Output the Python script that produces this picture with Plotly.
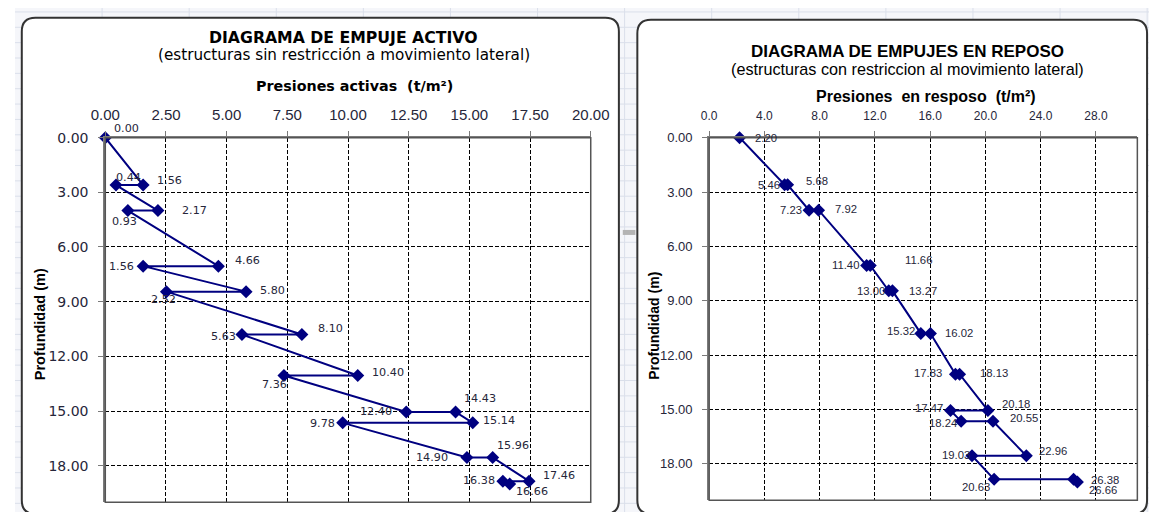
import plotly.graph_objects as go

W, H = 1168, 512

# ---------------- data ----------------
# Left chart: empuje activo (presión t/m², profundidad m)
activo_presion = [0.00, 1.56, 0.44, 2.17, 0.93, 4.66, 1.56, 5.80, 2.52, 8.10, 5.63,
                  10.40, 7.36, 12.40, 14.43, 15.14, 9.78, 14.90, 15.96, 17.46, 16.38, 16.66]
activo_prof = [0.0, 2.6, 2.6, 4.0, 4.0, 7.05, 7.05, 8.45, 8.45, 10.8, 10.8,
               13.05, 13.05, 15.05, 15.05, 15.65, 15.65, 17.55, 17.55, 18.85, 18.85, 19.0]

# Right chart: empujes en reposo
reposo_presion = [2.20, 5.46, 5.68, 7.23, 7.92, 11.40, 11.66, 13.00, 13.27, 15.32, 16.02,
                  17.83, 18.13, 20.18, 17.47, 18.24, 20.55, 22.96, 19.03, 20.63, 26.38, 26.66]
reposo_prof = [0.0, 2.6, 2.6, 4.0, 4.0, 7.05, 7.05, 8.45, 8.45, 10.8, 10.8,
               13.05, 13.05, 15.05, 15.05, 15.65, 15.65, 17.55, 17.55, 18.85, 18.85, 19.0]

activo_xticks = [0, 2.5, 5, 7.5, 10, 12.5, 15, 17.5, 20]
reposo_xticks = [0, 4, 8, 12, 16, 20, 24, 28]
prof_ticks = [0, 3, 6, 9, 12, 15, 18]

# ---------------- label placement (style only) ----------------
# (xanchor, pixel x shift of label edge, pixel y shift downwards)
activo_lab = [("left", 7, -9), ("left", 12, -5), ("left", -2, -8), ("left", 22, 0),
              ("left", -18, 11), ("left", 15, -6), ("right", -7, 0), ("left", 12, -1),
              ("left", -17, 8), ("left", 14, -6), ("right", -4, 2), ("left", 12, -3),
              ("left", -24, 9), ("right", -12, 0), ("left", 6, -13), ("left", 8, -2),
              ("right", -6, 1), ("right", -17, 0), ("left", 2, -12), ("left", 12, -6),
              ("right", -6, -1), ("left", 4, 8)]
reposo_lab = [("left", 13, 0), ("right", -3, 0), ("left", 16, -4), ("right", -5, 0),
              ("left", 14, -1), ("right", -6, 0), ("left", 33, -5), ("right", -2, 0),
              ("left", 15, 0), ("right", -4, -2), ("left", 13, 0), ("right", -11, -1),
              ("left", 18, -1), ("left", 12, -6), ("right", -5, -2), ("right", -2, 2),
              ("left", 15, -3), ("left", 11, -5), ("right", 0, -1), ("right", -2, 8),
              ("left", 15, 1), ("left", 10, 8)]

ARIAL = "Liberation Sans, Arial, sans-serif"
WIDE = "DejaVu Sans, Verdana, sans-serif"
NAVY = "#000080"
TXT = "#26263a"


def px(x):
    return x / W


def py(y):
    return 1 - y / H


fig = go.Figure()

fig.add_trace(go.Scatter(
    x=activo_presion, y=activo_prof, mode="lines+markers",
    line=dict(color=NAVY, width=2),
    marker=dict(symbol="diamond", size=10, color=NAVY),
    xaxis="x", yaxis="y", cliponaxis=False, showlegend=False, hoverinfo="x+y"))

fig.add_trace(go.Scatter(
    x=reposo_presion, y=reposo_prof, mode="lines+markers",
    line=dict(color=NAVY, width=2),
    marker=dict(symbol="diamond", size=10, color=NAVY),
    xaxis="x2", yaxis="y2", cliponaxis=False, showlegend=False, hoverinfo="x+y"))

annotations = []
for xs, ys, labs, xr, yr, fam, fs in [
        (activo_presion, activo_prof, activo_lab, "x", "y", WIDE, 11.2),
        (reposo_presion, reposo_prof, reposo_lab, "x2", "y2", ARIAL, 11.3)]:
    for xv, yv, (anc, dx, dy) in zip(xs, ys, labs):
        annotations.append(dict(
            x=xv, y=yv, xref=xr, yref=yr, text=f"{xv:.2f}", showarrow=False,
            xanchor=anc, yanchor="middle", xshift=dx, yshift=-dy,
            font=dict(family=fam, size=fs, color=TXT)))


def ann(text, x, y, size, fam, bold=False, angle=0):
    t = f"<b>{text}</b>" if bold else text
    annotations.append(dict(
        x=px(x), y=py(y), xref="paper", yref="paper", text=t, showarrow=False,
        xanchor="center", yanchor="middle", textangle=angle,
        font=dict(family=fam, size=size, color="#000000")))

ann("DIAGRAMA DE EMPUJE ACTIVO", 338, 30, 15.7, WIDE, True)
ann("(estructuras sin restricción a movimiento lateral)", 339, 48, 15.2, WIDE)
ann("Presiones activas  (t/m²)", 349.5, 79, 14.3, WIDE, True)
ann("Profundidad (m)", 26, 321, 14.5, ARIAL, True, -90)

ann("DIAGRAMA DE EMPUJES EN REPOSO", 919, 44, 17, ARIAL, True)
ann("(estructuras con restriccion al movimiento lateral)", 919.5, 62, 16.2, ARIAL)
ann("Presiones  en resposo  (t/m²)", 938, 90, 16, ARIAL, True)
ann("Profundidad (m)", 658, 323, 14, ARIAL, True, -90)


# ---------------- shapes (spreadsheet background / cards) ----------------
def c(x, y):
    return f"{px(x):.5f},{py(y):.5f}"


def rr_path(x0, y0, x1, y1, r):
    return (f"M {c(x0 + r, y0)} L {c(x1 - r, y0)} Q {c(x1, y0)} {c(x1, y0 + r)} "
            f"L {c(x1, y1 - r)} Q {c(x1, y1)} {c(x1 - r, y1)} L {c(x0 + r, y1)} "
            f"Q {c(x0, y1)} {c(x0, y1 - r)} L {c(x0, y0 + r)} Q {c(x0, y0)} {c(x0 + r, y0)} Z")

shapes = []
shapes.append(dict(type="rect", xref="paper", yref="paper", x0=0, x1=1, y0=0, y1=1,
                   fillcolor="#f5f6fa", line=dict(width=0), layer="below"))
yy = 4.0
while yy < H:
    shapes.append(dict(type="line", xref="paper", yref="paper", x0=0, x1=1,
                       y0=py(yy), y1=py(yy), line=dict(color="#dadfea", width=1), layer="below"))
    yy += 15.6
for k in range(1, 14):
    xx = 89.7 * k
    shapes.append(dict(type="line", xref="paper", yref="paper", x0=px(xx), x1=px(xx),
                       y0=0, y1=1, line=dict(color="#dadfea", width=1), layer="below"))
# small gray handle between cards
shapes.append(dict(type="line", xref="paper", yref="paper", x0=px(626), x1=px(639),
                   y0=py(228), y1=py(228), line=dict(color="#b4b4b4", width=5), layer="below"))
shapes.append(dict(type="path", xref="paper", yref="paper", path=rr_path(7, 10, 622, 514, 14),
                   fillcolor="#ffffff", line=dict(color="#333333", width=2), layer="below"))
shapes.append(dict(type="path", xref="paper", yref="paper", path=rr_path(641, 12, 1166, 514, 14),
                   fillcolor="#ffffff", line=dict(color="#333333", width=2), layer="below"))
# plot-area frames
for (x0, x1, y0, y1) in [(93, 593, 131.7, 502), (715, 1156, 131.7, 500)]:
    shapes.append(dict(type="rect", xref="paper", yref="paper",
                       x0=px(x0), x1=px(x1), y0=py(y1), y1=py(y0),
                       line=dict(color="#555555", width=1.5), layer="above"))

axis_common = dict(showgrid=True, gridcolor="#000000", gridwidth=1, griddash="4px,2px",
                   zeroline=False, showline=True, linecolor="#7a7a7a", linewidth=2,
                   ticks="outside", ticklen=5, tickcolor="#7a7a7a", tickwidth=1,
                   mirror=False, fixedrange=True)

fig.update_layout(
    width=W, height=H, margin=dict(l=0, r=0, t=0, b=0),
    paper_bgcolor="#ffffff", plot_bgcolor="rgba(0,0,0,0)",
    showlegend=False,
    xaxis=dict(domain=[px(93), px(593)], range=[0, 20], side="top", anchor="y",
               tickvals=activo_xticks, tickformat=".2f",
               tickfont=dict(family=ARIAL, size=15, color=TXT), ticklabelstandoff=5,
               **axis_common),
    yaxis=dict(domain=[py(502), py(131.7)], range=[20, 0], anchor="x",
               tickvals=prof_ticks, tickformat=".2f",
               tickfont=dict(family=WIDE, size=14, color=TXT), ticklabelstandoff=7,
               **axis_common),
    xaxis2=dict(domain=[px(715), px(1156)], range=[0, 31], side="top", anchor="y2",
                tickvals=reposo_xticks, tickformat=".1f",
                tickfont=dict(family=ARIAL, size=12, color=TXT), ticklabelstandoff=6,
                **axis_common),
    yaxis2=dict(domain=[py(500), py(131.7)], range=[20, 0], anchor="x2",
                tickvals=prof_ticks, tickformat=".2f",
                tickfont=dict(family=ARIAL, size=13, color=TXT), ticklabelstandoff=7,
                **axis_common),
    annotations=annotations,
    shapes=shapes,
)

fig.write_html("out.html", config={"displayModeBar": False},
               post_script="document.body.style.margin='0';document.body.style.overflow='hidden';")
